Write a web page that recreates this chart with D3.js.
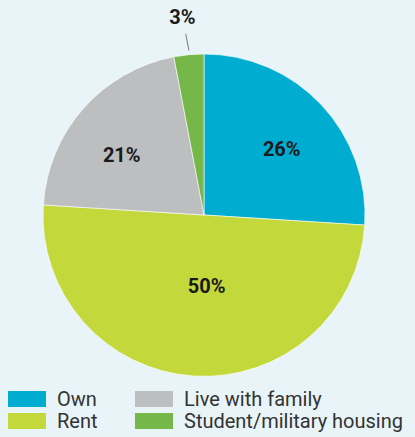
<!DOCTYPE html>
<html>
<head>
<meta charset="utf-8">
<script src="https://cdn.jsdelivr.net/npm/d3@7"></script>
<style>
  body { margin: 0; background: #e8f4f8; }
  svg { display: block; font-family: Roboto, "DejaVu Sans", sans-serif; }
</style>
</head>
<body>
<svg width="415" height="437"></svg>
<script>
// Data
var categories = ['Own', 'Rent', 'Live with family', 'Student/military housing'];
var shares = [26, 50, 21, 3];
var colors = ['#00acd0', '#c3d83a', '#bdbec0', '#76b74a'];

var data = categories.map((c, i) => ({name: c, value: shares[i], color: colors[i]}));

var cx = 204, cy = 215, radius = 161;
var svg = d3.select('svg');

var pie = d3.pie().value(d => d.value).sort(null);
var arc = d3.arc().innerRadius(0).outerRadius(radius);
var arcs = pie(data);

var chart = svg.append('g').attr('transform', 'translate(' + cx + ',' + cy + ')');

chart.selectAll('path')
  .data(arcs).enter()
  .append('path')
  .attr('d', arc)
  .attr('fill', d => d.data.color)
  .attr('stroke', '#ffffff')
  .attr('stroke-width', 0.6);

// inside labels, outside label with leader for the small slice
function polar(r, a) { return [r * Math.sin(a), -r * Math.cos(a)]; }

arcs.forEach(d => {
  var mid = (d.startAngle + d.endAngle) / 2;
  if (d.data.value < 5) {
    var p1 = polar(radius + 4, mid + 0.003), p2 = polar(radius + 21, mid - 0.006);
    chart.append('line')
      .attr('x1', p1[0]).attr('y1', p1[1])
      .attr('x2', p2[0]).attr('y2', p2[1])
      .attr('stroke', '#777').attr('stroke-width', 1);
    var pt = polar(radius + 38, mid - 0.015);
    chart.append('text')
      .attr('x', pt[0]).attr('y', pt[1])
      .attr('text-anchor', 'middle').attr('dy', '0.36em')
      .attr('font-size', 20).attr('font-weight', 'bold').attr('fill', '#1a1a1a')
      .text(d.data.value + '%');
  } else {
    var lr = d.data.value >= 50 ? 71 : 102;
    var shift = d.data.value >= 50 ? -0.1 : (d.startAngle > Math.PI ? -0.09 : 0.05);
    var p = polar(lr, mid + shift);
    chart.append('text')
      .attr('x', p[0]).attr('y', p[1])
      .attr('text-anchor', 'middle').attr('dy', '0.36em')
      .attr('font-size', 20).attr('font-weight', 'bold').attr('fill', '#1a1a1a')
      .text(d.data.value + '%');
  }
});

// Legend: two columns
var legend = svg.append('g');
var colX = [8, 135], rowY = [391, 413];
data.forEach((d, i) => {
  var col = Math.floor(i / 2), row = i % 2;
  var g = legend.append('g').attr('transform', 'translate(' + colX[col] + ',' + rowY[row] + ')');
  g.append('rect').attr('width', 38).attr('height', 16).attr('fill', d.color);
  g.append('text')
    .attr('x', 49).attr('y', 15)
    .attr('font-size', 20).attr('fill', '#333')
    .text(d.name);
});
</script>
</body>
</html>
